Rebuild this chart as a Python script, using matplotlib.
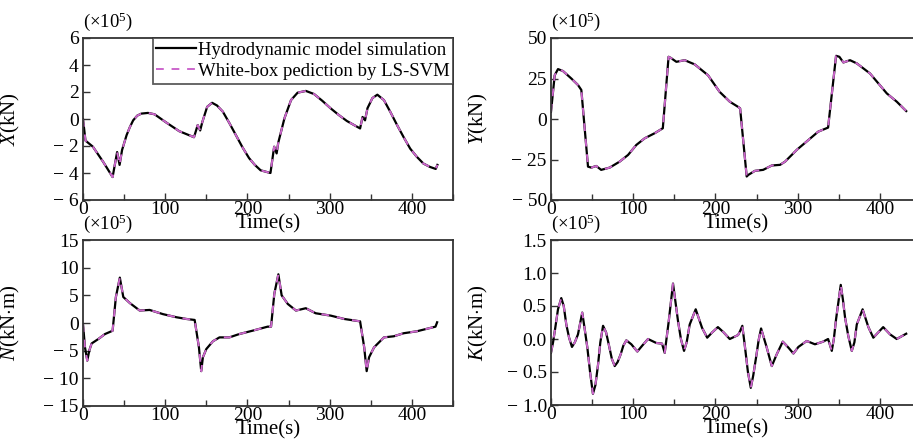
import numpy as np
import matplotlib
matplotlib.use('Agg')
import matplotlib.pyplot as plt
from matplotlib.ticker import MultipleLocator

plt.rcParams['font.family'] = ['Liberation Serif', 'DejaVu Serif']
plt.rcParams['mathtext.fontset'] = 'custom'
plt.rcParams['mathtext.rm'] = 'Liberation Serif'
plt.rcParams['mathtext.it'] = 'Liberation Serif:italic'
plt.rcParams['font.size'] = 14

# X force (x1e5 kN)
tX = [0, 3, 12, 24.6, 36, 41.5, 44.5, 47.5, 53, 57, 61, 66, 71, 79, 87, 101, 117,
      135, 139.5, 142.5, 145, 151, 157, 163, 170, 178, 186, 194, 202, 209, 216, 228,
      232.5, 235.5, 237.5, 245, 253, 261, 271, 281, 291, 301, 311, 321, 337, 340,
      343, 346, 352, 358, 366, 374, 382, 390, 398, 406, 414, 422, 429, 431]
X = [0.0, -1.6, -2.05, -3.18, -4.3, -2.45, -3.4, -2.3, -1.2, -0.6, -0.1, 0.25, 0.4,
     0.45, 0.35, -0.25, -0.9, -1.35, -0.45, -0.85, -0.25, 0.9, 1.2, 1.0, 0.55, -0.3,
     -1.2, -2.1, -2.9, -3.4, -3.8, -4.0, -2.05, -2.55, -1.75, 0.05, 1.4, 1.95, 2.08,
     1.85, 1.35, 0.8, 0.3, -0.15, -0.7, 0.15, -0.1, 0.8, 1.55, 1.8, 1.4, 0.5, -0.45,
     -1.35, -2.2, -2.8, -3.3, -3.55, -3.7, -3.4]

# Y force (x1e5 kN)
tY = [0, 4.5, 8.5, 14.6, 24.7, 32.8, 36.9, 45, 49, 55, 61, 71.4, 83.5, 93.7, 103.8,
      114, 126, 136, 143, 145.7, 152.5, 162.6, 174.8, 191, 205, 217.4, 227.5, 230,
      238, 240, 248, 258, 268.5, 278.6, 284.7, 299, 313, 325, 337, 346.7, 350.7,
      355.6, 363.7, 372, 388, 408.4, 420.5, 432]
Y = [4.5, 27, 30.8, 29.6, 25, 21, 17.9, -29.4, -30, -29, -31.4, -30, -26.3, -22.2,
     -16, -11.9, -8.8, -5.7, 38.4, 37.7, 35.3, 36.3, 33.7, 27, 16.8, 10.7, 7.5, 6.6,
     -35.5, -34.5, -32, -31.4, -28.7, -28.3, -26.3, -19, -13, -7.8, -5.3, 39, 38.4,
     34.9, 36.3, 34.3, 28.1, 15.8, 10.7, 4.9]

# N moment (x1e5 kN*m)
tN = [0, 2.4, 5.2, 7.6, 10.5, 18.6, 26.7, 36, 40, 44.8, 49, 57, 69, 81, 97.3, 113.6,
      125.7, 135.8, 141, 143.8, 145.8, 150, 158, 166, 178, 190, 206, 224.6, 228.7,
      232.7, 237.6, 241.6, 249, 259, 271, 283, 301.4, 317.6, 337, 342, 345, 347.9,
      354, 366, 378, 390, 406, 428.7, 430.7]
N = [-0.2, -4.4, -6.8, -5.0, -3.7, -2.9, -2.0, -1.4, 4.7, 8.2, 4.7, 3.6, 2.25, 2.36,
     1.6, 1.04, 0.73, 0.55, -4.4, -8.7, -6.2, -4.7, -3.3, -2.6, -2.6, -2.0, -1.4,
     -0.66, -0.66, 5.3, 8.8, 5.0, 3.45, 2.25, 2.67, 1.76, 1.33, 0.73, 0.3, -4.4,
     -8.7, -6.2, -4.4, -2.6, -2.4, -1.85, -1.5, -0.66, 0.13]

# K moment (x1e5 kN*m)
tK = [0, 2.5, 5.2, 8.5, 12.5, 15.5, 18.6, 22, 25.5, 29, 32.8, 38, 41, 44.2, 47.5, 51,
      54, 57.2, 60, 63.3, 67, 70.2, 74, 77.5, 81, 84.8, 88, 91.6, 97.7, 105, 111,
      118, 128, 135, 138.3, 143.2, 148.4, 154.5, 158, 161.8, 165, 168.7, 176, 183.7,
      190, 196, 203, 210, 217.4, 227.5, 230, 232.7, 236, 239.5, 243, 246, 249.4,
      252.5, 255.5, 262.4, 268.5, 274.6, 281.9, 288.7, 294.8, 300.9, 311, 321, 331,
      337, 341.5, 344, 346.7, 352.4, 355, 357.7, 361.5, 365.8, 369, 371.9, 379, 386,
      392, 398, 404, 412.4, 420.5, 432]
K = [-0.21, -0.05, 0.17, 0.45, 0.62, 0.5, 0.22, 0.02, -0.12, -0.05, 0.07, 0.4, 0.15,
     -0.13, -0.5, -0.83, -0.7, -0.39, -0.05, 0.2, 0.1, -0.08, -0.3, -0.41, -0.35,
     -0.23, -0.1, -0.02, -0.08, -0.19, -0.1, 0.0, -0.06, -0.07, -0.21, 0.27, 0.84,
     0.27, 0.0, -0.18, -0.05, 0.22, 0.45, 0.17, 0.02, 0.1, 0.18, 0.1, 0.0, 0.06,
     0.12, 0.2, -0.13, -0.5, -0.74, -0.55, -0.28, -0.02, 0.16, -0.13, -0.41, -0.23,
     -0.04, -0.13, -0.22, -0.12, -0.03, -0.08, -0.04, 0.0, -0.18, 0.0, 0.3, 0.82,
     0.6, 0.32, 0.05, -0.18, -0.05, 0.22, 0.45, 0.18, 0.02, 0.1, 0.18, 0.07, 0.0,
     0.08]

series = [
    (tX, X, r'$\mathit{X}$(kN)', [-6, -4, -2, 0, 2, 4, 6], '{:g}'),
    (tY, Y, r'$\mathit{Y}$(kN)', [-50, -25, 0, 25, 50], '{:g}'),
    (tN, N, r'$\mathit{N}$(kN$\cdot$m)', [-15, -10, -5, 0, 5, 10, 15], '{:g}'),
    (tK, K, r'$\mathit{K}$(kN$\cdot$m)', [-1.0, -0.5, 0.0, 0.5, 1.0, 1.5], '{:.1f}'),
]

# axes positions in pixels (left, top, width, height)
W, H = 913.0, 443.0
boxes = [
    (83, 38, 370, 162),
    (551, 38, 370, 162),
    (83, 240, 370, 166),
    (551, 240, 370, 165),
]

fig = plt.figure(figsize=(9.13, 4.43), dpi=100)
pink = '#cc66cc'

for i, (t, v, ylab, yt, fmt) in enumerate(series):
    x0, y0, w, h = boxes[i]
    ax = fig.add_axes([x0 / W, 1 - (y0 + h) / H, w / W, h / H])
    ax.plot(t, v, '-', color='black', lw=1.6, label='Hydrodynamic model simulation')
    ax.plot(t, v, '--', color=pink, lw=1.4, dashes=(4, 4),
            label='White-box pediction by LS-SVM')
    ax.set_xlim(0, 450)
    ax.set_ylim(yt[0], yt[-1])
    ax.set_xticks([0, 100, 200, 300, 400])
    ax.xaxis.set_minor_locator(MultipleLocator(50))
    ax.set_yticks(yt)
    labs = []
    for y in yt:
        s = fmt.format(abs(y))
        labs.append(('\u2212 ' + s) if y < 0 else s)
    ax.set_yticklabels(labs)
    ax.tick_params(which='both', direction='in', top=False, right=False, width=1,
                   color='#333333')
    ax.tick_params(which='major', length=5)
    ax.tick_params(which='minor', length=4)
    ax.tick_params(axis='x', pad=1)
    ax.tick_params(axis='y', pad=3)
    for sp in ax.spines.values():
        sp.set_linewidth(1.3)
        sp.set_color('#333333')
    ax.set_xlabel('Time(s)', labelpad=-3, fontsize=15)
    ax.set_ylabel(ylab, fontsize=15)
    ax.yaxis.set_label_coords(-0.165, 0.5)
    ax.text(0.0, 1.03, r'($\times$10$^5$)', transform=ax.transAxes,
            ha='left', va='bottom', fontsize=13.5)
    if i == 0:
        leg = ax.legend(loc='upper right', fontsize=13.5, frameon=True, fancybox=False,
                        borderpad=0.2, labelspacing=0.2, handlelength=2.1,
                        handletextpad=0.1, borderaxespad=0.0)
        leg.get_frame().set_edgecolor('#333333')
        leg.get_frame().set_linewidth(1.3)

fig.savefig('out.png', dpi=100)
